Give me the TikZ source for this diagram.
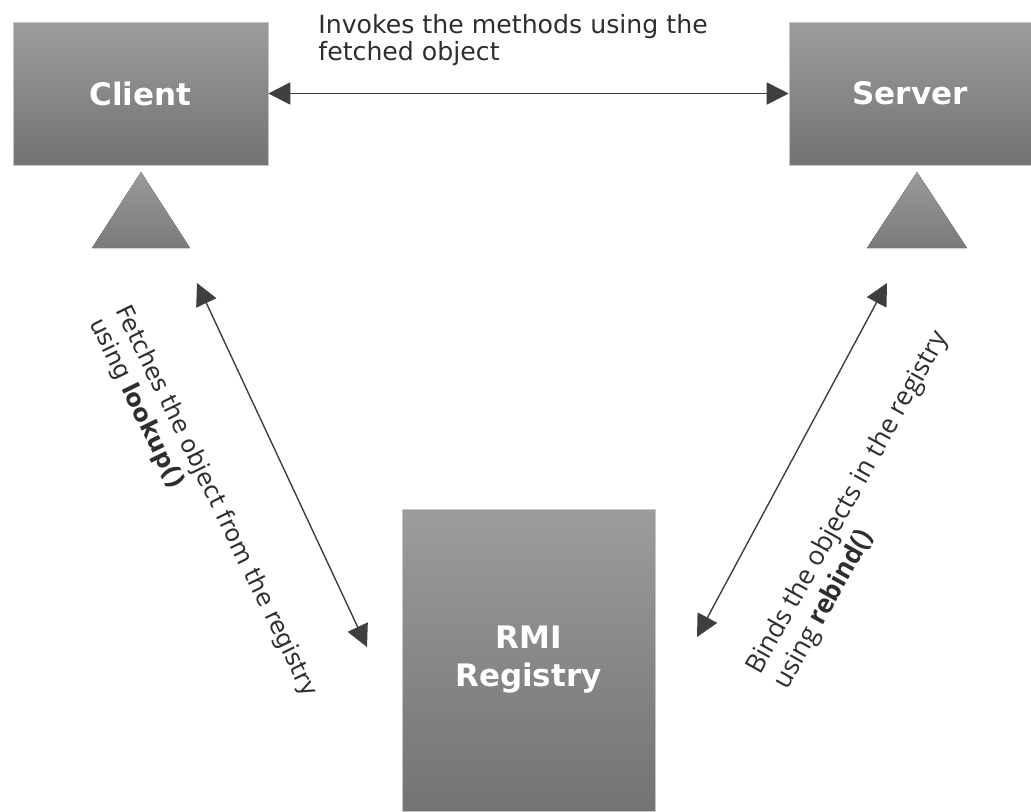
\documentclass[tikz,border=0pt]{standalone}
\usepackage{fontspec}
\setmainfont{DejaVu Sans}
\newfontfamily\bindfont{Open Sans}
\usetikzlibrary{arrows.meta}

\definecolor{boxtop}{HTML}{9C9C9C}
\definecolor{boxbottom}{HTML}{737373}
\definecolor{standtop}{HTML}{9A9A9A}
\definecolor{standbottom}{HTML}{7A7A7A}
\definecolor{arrowgray}{HTML}{3F3F3F}
\definecolor{notegray}{HTML}{2E2E2E}

\begin{document}
\begin{tikzpicture}[
    x=0.5pt, y=0.5pt,
    % Box style: grey gradient, thin light border, white bold label
    box/.style={rectangle, draw=gray!45, line width=0.3pt, top color=boxtop,
        bottom color=boxbottom, text=white, inner sep=0pt, align=center,
        font=\bfseries\fontsize{15.5}{19}\selectfont},
    % Triangle under a box
    stand/.style={top color=standtop, bottom color=standbottom},
    % Double-headed connector
    link/.style={draw=arrowgray, line width=0.7pt,
        {Triangle[length=11pt,width=11pt]}-{Triangle[length=11pt,width=11pt]}},
    % Explanatory text
    note/.style={text=notegray, inner sep=0pt, align=left,
        font=\fontsize{12}{14.5}\selectfont}
]
    \useasboundingbox (0,0) rectangle (1031,-811);

    % --- Boxes (Client, Server, RMI Registry) ---
    \node[box, minimum width=127.5pt, minimum height=71.5pt] (client) at (140.5,-93.5) {Client};
    \node[box, minimum width=121pt, minimum height=71.5pt] (server) at (910,-93.5) {Server};
    \node[box, minimum width=126.5pt, minimum height=151pt] (registry) at (528.5,-660) {RMI\\Registry};

    % --- Triangles under Client and Server ---
    \fill[stand] (141,-172) -- (92,-248) -- (190,-248) -- cycle;
    \fill[stand] (917,-172) -- (867,-248) -- (967,-248) -- cycle;

    % --- Free ends of the diagonal connectors ---
    \coordinate (fetchtop) at (197,-283);
    \coordinate (fetchbot) at (367,-647);
    \coordinate (bindtop) at (887,-283);
    \coordinate (bindbot) at (697,-637);

    % --- Connectors ---
    \draw[link, line width=0.9pt] (client.east) -- (server.west);
    \draw[link] (fetchtop) -- (fetchbot);
    \draw[link] (bindtop) -- (bindbot);

    % --- Labels ---
    \node[note, anchor=north west, font=\fontsize{12.6}{13.5}\selectfont] (invokes) at (318,-14)
        {Invokes the methods using the\\fetched object};
    \node[note, rotate=-64, anchor=north west] (fetches) at (132,-302)
        {Fetches the object from the registry\\using \textbf{lookup()}};
    \node[note, rotate=61, anchor=north west, font=\bindfont\fontsize{13.2}{15.5}\selectfont] (binds) at (742,-666)
        {Binds the objects in the registry\\using \textbf{rebind()}};

\end{tikzpicture}
\end{document}
